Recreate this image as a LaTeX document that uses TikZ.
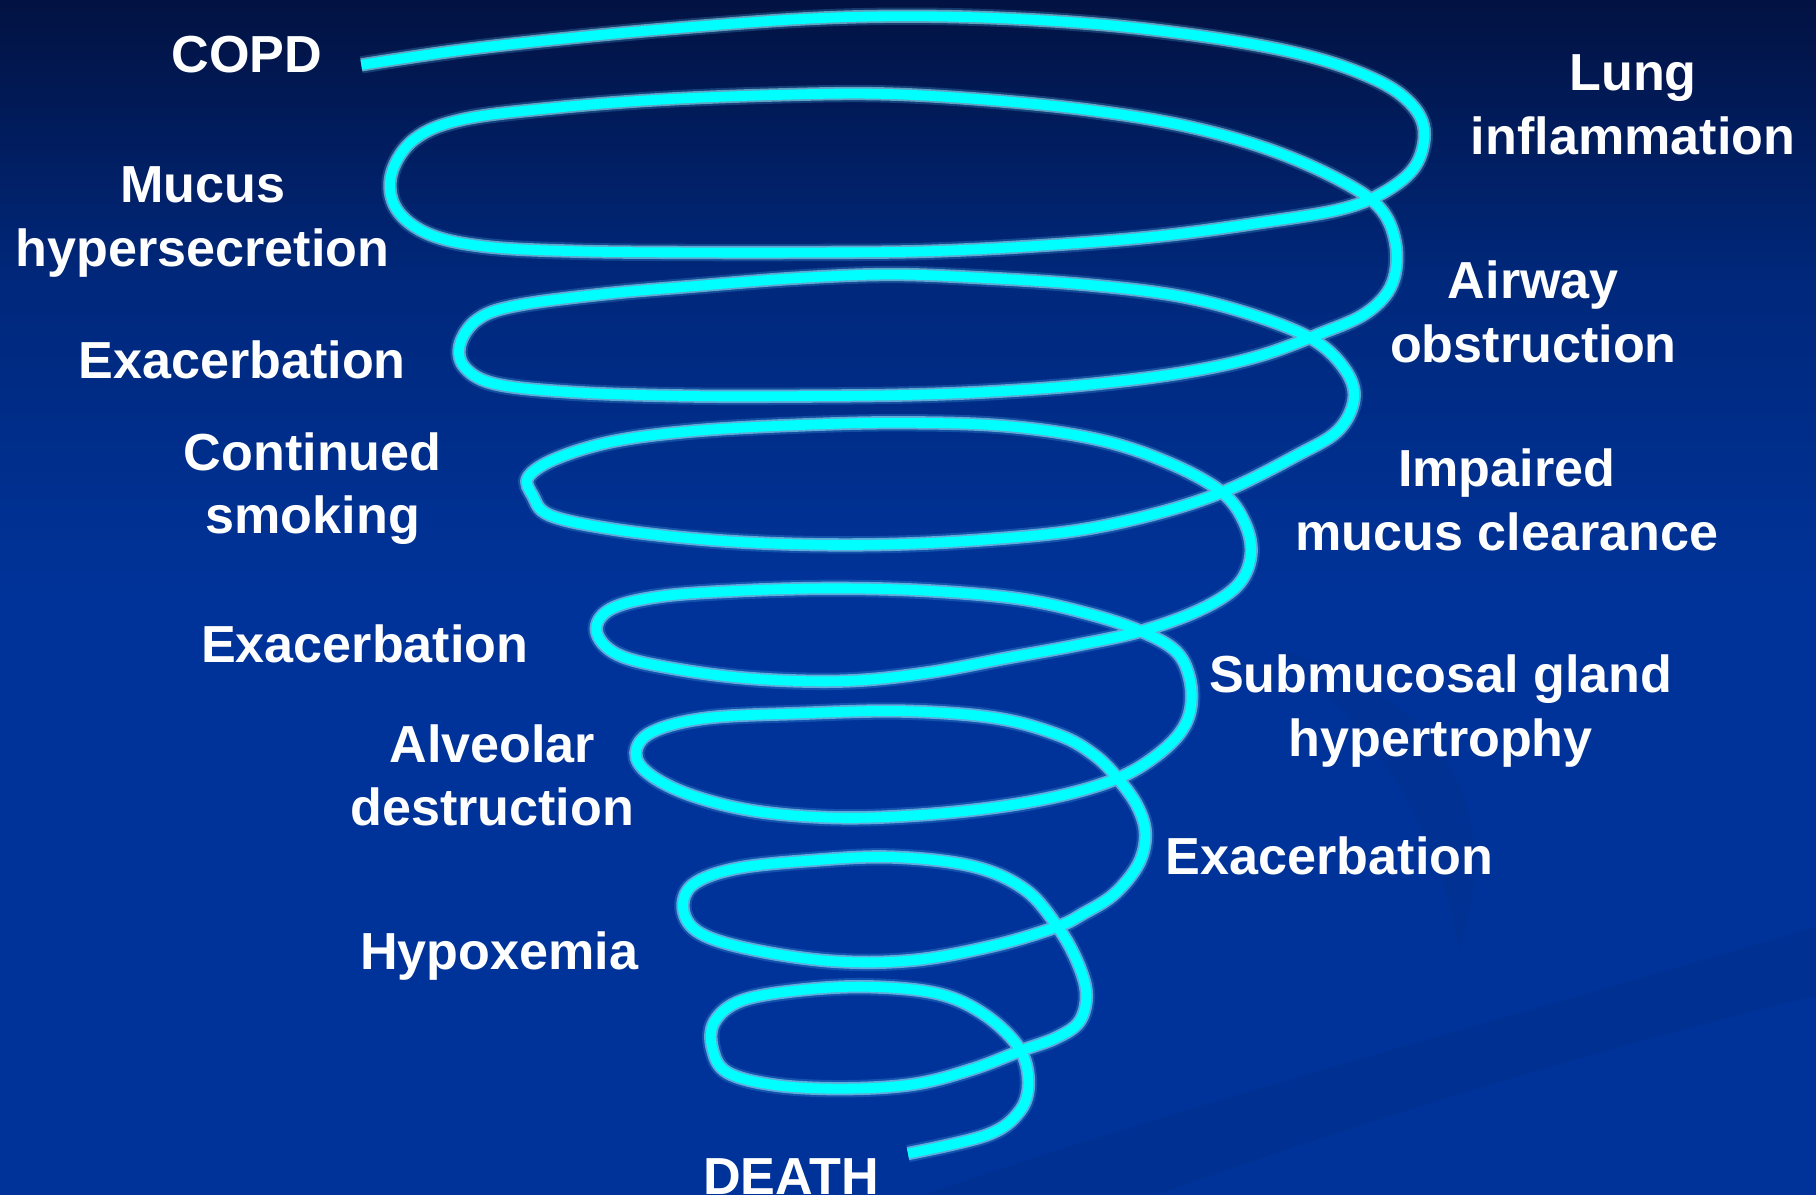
\documentclass[tikz,border=0pt]{standalone}
\usepackage{fontspec}
\setmainfont{Liberation Sans}
\definecolor{bgtop}{RGB}{2,18,66}
\definecolor{bgmid}{RGB}{0,40,124}
\definecolor{bgbot}{RGB}{0,51,153}
\definecolor{glowa}{RGB}{90,200,255}
\definecolor{glowb}{RGB}{160,245,255}
\definecolor{spiralc}{RGB}{0,255,255}
\pgfdeclareverticalshading{bgshade}{100bp}{color(0bp)=(bgbot); color(50bp)=(bgbot); color(63bp)=(bgmid); color(75bp)=(bgtop); color(100bp)=(bgtop)}
\begin{document}
\begin{tikzpicture}[x=1pt,y=-1pt,
  lbl/.style={font=\fontsize{45}{55}\selectfont\bfseries, text=white, inner sep=0pt, align=center, anchor=base},
  spiralline/.style={draw=spiralc, line width=8.5pt, line cap=butt, line join=round,
    preaction={draw=glowa, line width=15pt, opacity=0.22},
    preaction={draw=glowb, line width=11.5pt, opacity=0.55}}]
\useasboundingbox (0,0) rectangle (1568,1031);
\clip (0,0) rectangle (1568,1031);
\shade[shading=bgshade] (0,0) rectangle (1568,1031);
% faint background swooshes
\fill[black, opacity=0.05] (1568,800) .. controls (1300,880) and (1000,960) .. (800,1031) -- (1000,1031) .. controls (1200,960) and (1400,900) .. (1568,860) -- cycle;
\fill[black, opacity=0.035] (1100,560) .. controls (1250,600) and (1300,700) .. (1260,820) .. controls (1240,720) and (1200,640) .. (1100,560) -- cycle;

\path[spiralline] plot[smooth, tension=0.6] coordinates {
 (312,56) (400,43) (500,32) (600,23) (700,16) (784,14) (870,16) (960,22) (1050,33) (1120,46) (1172,62) (1210,82) (1229,108) (1224,140) (1200,163) (1160,180)
 (1090,192) (1000,204) (900,212) (800,217) (700,218) (600,218) (500,217) (420,213) (370,202) (342,180) (338,150) (358,120) (400,103) (480,93) (570,86) (670,82) (760,81)
 (850,86) (940,95) (1020,108) (1090,127) (1150,152) (1190,178) (1205,210) (1202,245) (1180,270) (1140,288)
 (1085,308) (1020,322) (940,332) (860,338) (784,341) (700,342) (600,342) (500,339) (430,332) (402,318) (397,298) (412,276) (445,264) (520,254) (600,247) (690,240) (770,237)
 (850,240) (940,246) (1020,256) (1085,273) (1135,294) (1162,320) (1169,345) (1155,372) (1120,393) (1060,423)
 (1000,443) (930,458) (850,466) (770,470) (690,470) (610,466) (530,457) (475,445) (460,428) (456,412) (480,396) (530,381) (600,372) (690,367) (780,365)
 (870,368) (950,380) (1010,400) (1055,425) (1075,452) (1080,480) (1068,506) (1035,527) (985,545)
 (930,557) (870,568) (800,581) (730,588) (650,586) (580,577) (533,565) (515,545) (527,526) (570,515) (640,510) (720,508) (800,510)
 (880,517) (940,530) (985,545) (1015,562) (1027,585) (1028,612) (1018,634) (995,655) (965,672)
 (920,686) (860,697) (790,704) (720,706) (650,700) (595,686) (560,668) (549,650) (563,632) (610,620) (690,616) (780,614)
 (860,620) (915,635) (945,652) (965,672) (982,696) (989,720) (983,746) (962,772) (935,789) (913,800)
 (860,816) (790,829) (720,830) (650,820) (605,806) (590,786) (598,764) (635,750) (700,743) (770,740)
 (840,748) (885,768) (913,800) (930,830) (938,858) (932,882) (912,896) (882,907)
 (840,923) (790,936) (730,940) (670,937) (628,926) (615,905) (617,882) (640,864) (690,855) (750,852)
 (810,858) (850,876) (880,905) (888,935) (880,960) (852,980) (784,996) };

\node[lbl] (copd) at (213,63) {COPD};
\node[lbl] (mucus) at (175,230) {Mucus\\hypersecretion};
\node[lbl] (exac1) at (209,327) {Exacerbation};
\node[lbl] (smoke) at (270,461) {Continued\\smoking};
\node[lbl] (exac2) at (315,572) {Exacerbation};
\node[lbl] (alveo) at (425,713) {Alveolar\\destruction};
\node[lbl] (hypox) at (431,837) {Hypoxemia};
\node[lbl] (death) at (683,1031) {DEATH};
\node[lbl] (lung) at (1410,133) {Lung\\inflammation};
\node[lbl] (airway) at (1324,313) {Airway\\obstruction};
\node[lbl] (impair) at (1301,475) {Impaired\\mucus clearance};
\node[lbl] (gland) at (1244,653) {Submucosal gland\\hypertrophy};
\node[lbl] (exac3) at (1148,755) {Exacerbation};
\end{tikzpicture}
\end{document}
